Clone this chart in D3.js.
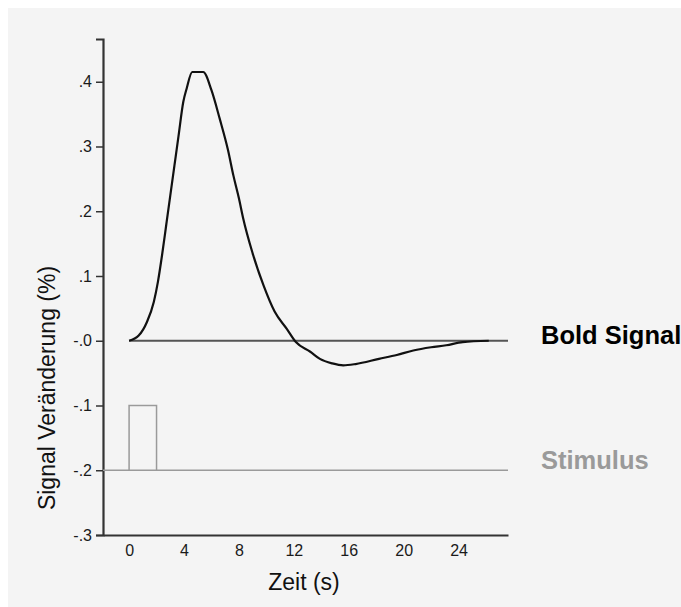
<!DOCTYPE html>
<html>
<head>
<meta charset="utf-8">
<script src="https://cdn.jsdelivr.net/npm/d3@7"></script>
<style>
  html, body { margin: 0; padding: 0; background: #ffffff; }
  svg { display: block; }
</style>
</head>
<body>
<svg id="chart" width="681" height="607"></svg>
<script>
// ---- data ----
const boldTime  = [0, 0.7, 1.3, 1.8, 2.1, 2.4, 2.7, 3.0, 3.3, 3.6, 3.95, 4.2, 4.6, 5.4, 6.0, 6.6, 7.2, 7.6, 8.0, 8.3, 9.0, 9.8, 10.6, 11.5, 12.15, 13.2, 13.9, 14.8, 15.6, 16.5, 18.2, 19.5, 20.7, 22.0, 23.1, 24.3, 26.2];
const boldValue = [0, 0.008, 0.029, 0.06, 0.091, 0.132, 0.178, 0.224, 0.27, 0.316, 0.369, 0.39, 0.415, 0.415, 0.387, 0.343, 0.295, 0.255, 0.22, 0.19, 0.135, 0.085, 0.045, 0.018, -0.002, -0.017, -0.028, -0.035, -0.038, -0.036, -0.028, -0.022, -0.015, -0.010, -0.007, -0.002, 0];
const stimulusTime  = [0, 0, 2, 2];
const stimulusValue = [-0.2, -0.1, -0.1, -0.2];
const stimulusBaseline = -0.2;
const boldBaseline = 0;
const xTicks = [0, 4, 8, 12, 16, 20, 24];
const yTicks = [0.4, 0.3, 0.2, 0.1, 0, -0.1, -0.2, -0.3];
const yTickLabels = [".4", ".3", ".2", ".1", "-.0", "-.1", "-.2", "-.3"];
const xTitle = "Zeit (s)";
const yTitle = "Signal Veränderung (%)";
const legendLabels = ["Bold Signal", "Stimulus"];

// ---- drawing ----
const svg = d3.select("#chart");
svg.append("rect").attr("x", 8).attr("y", 8).attr("width", 673).attr("height", 599).attr("fill", "#f4f4f4");

const x = d3.scaleLinear().domain([-1.9, 27.6]).range([103, 508]);
const y = d3.scaleLinear().domain([-0.3, 0.466]).range([535, 39]);

const font = "'Liberation Sans', Arial, Helvetica, sans-serif";

// y axis
const yAxis = d3.axisLeft(y).tickValues(yTicks).tickSize(7).tickPadding(4)
  .tickFormat((d, i) => yTickLabels[i]);
const gy = svg.append("g").attr("transform", `translate(${x.range()[0]},0)`).call(yAxis);
gy.select(".domain").attr("stroke", "#333").attr("stroke-width", 2.2);
gy.selectAll(".tick line").attr("stroke", "#333").attr("stroke-width", 1.5);
gy.selectAll(".tick text").attr("font-family", font).attr("font-size", 16).attr("fill", "#1a1a1a");

// x axis
const xAxis = d3.axisBottom(x).tickValues(xTicks).tickSize(0).tickPadding(10);
const gx = svg.append("g").attr("transform", `translate(0,${y.range()[0]})`).call(xAxis);
gx.select(".domain").attr("stroke", "#333").attr("stroke-width", 2.2);
gx.selectAll(".tick text").attr("font-family", font).attr("font-size", 16).attr("fill", "#1a1a1a");

// baselines
svg.append("line")
  .attr("x1", x(0)).attr("x2", x.range()[1])
  .attr("y1", y(boldBaseline)).attr("y2", y(boldBaseline))
  .attr("stroke", "#555").attr("stroke-width", 2);
svg.append("line")
  .attr("x1", x.range()[0]).attr("x2", x.range()[1])
  .attr("y1", y(stimulusBaseline)).attr("y2", y(stimulusBaseline))
  .attr("stroke", "#9a9a9a").attr("stroke-width", 1.5);

// stimulus box
const stimLine = d3.line().x((d, i) => x(stimulusTime[i])).y((d, i) => y(stimulusValue[i]));
svg.append("path").attr("d", stimLine(stimulusTime))
  .attr("fill", "none").attr("stroke", "#9a9a9a").attr("stroke-width", 1.5);

// bold curve
const boldLine = d3.line().curve(d3.curveMonotoneX)
  .x((d, i) => x(boldTime[i])).y((d, i) => y(boldValue[i]));
svg.append("path").attr("d", boldLine(boldTime))
  .attr("fill", "none").attr("stroke", "#111").attr("stroke-width", 2.2)
  .attr("stroke-linejoin", "round");

// titles
svg.append("text").attr("x", 304).attr("y", 590).attr("text-anchor", "middle")
  .attr("font-family", font).attr("font-size", 23).attr("fill", "#111").text(xTitle);
svg.append("text").attr("transform", "translate(55,388) rotate(-90)").attr("text-anchor", "middle")
  .attr("font-family", font).attr("font-size", 23).attr("fill", "#111").text(yTitle);

// legend labels
svg.append("text").attr("x", 541).attr("y", 344)
  .attr("font-family", font).attr("font-size", 25.5).attr("font-weight", "bold").attr("fill", "#000").text(legendLabels[0]);
svg.append("text").attr("x", 541).attr("y", 469)
  .attr("font-family", font).attr("font-size", 25.5).attr("font-weight", "bold").attr("fill", "#9a9a9a").text(legendLabels[1]);
</script>
</body>
</html>
